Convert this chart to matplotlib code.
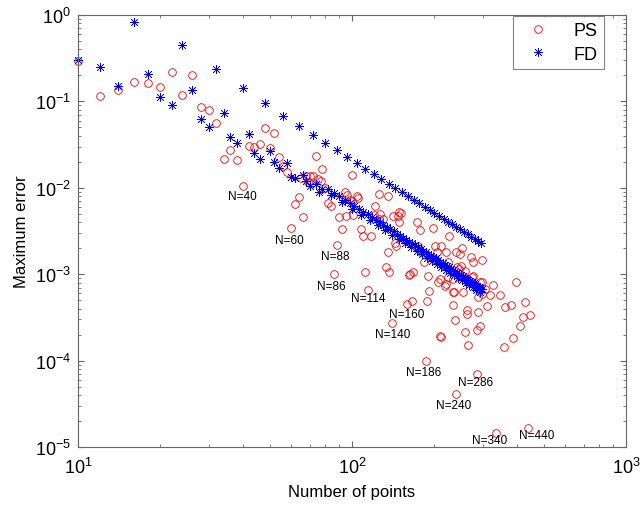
import matplotlib
matplotlib.use("Agg")
import matplotlib.pyplot as plt

plt.rcParams["font.family"] = ["Liberation Sans", "DejaVu Sans"]
plt.rcParams["mathtext.default"] = "regular"

# PS: maximum error vs number of points
ps_n = [10, 12, 14, 16, 18, 20, 22, 24, 26, 28, 30, 32, 34, 36, 38, 40, 42, 44,
        46, 48, 50, 52, 54, 56, 58, 60, 62, 64, 65, 66, 68, 69, 70, 72, 74, 75,
        77, 78, 80, 82, 84, 86, 88, 90, 92, 94, 95, 96, 98, 100, 100, 101, 104,
        105, 108, 110, 112, 114, 117, 120, 121, 125, 125, 126, 130, 133, 135,
        135, 137, 140, 141, 144, 145, 147, 149, 149, 151, 159, 161, 163, 165,
        167, 173, 174, 177, 178, 183, 186, 188, 190, 191, 198, 201, 204, 206,
        209, 210, 211, 212, 218, 221, 221, 224, 224, 226, 233, 233, 234, 236,
        238, 240, 240, 241, 246, 247, 250, 251, 254, 254, 258, 258, 262, 262,
        265, 272, 273, 276, 277, 285, 287, 289, 289, 293, 293, 298, 298, 298,
        306, 310, 318, 327, 336, 347, 358, 363, 380, 388, 398, 410, 420, 428,
        440, 448]
ps_err = [0.291, 0.116, 0.136, 0.166, 0.163, 0.148, 0.221, 0.119, 0.202, 0.087,
          0.080, 0.056, 0.0215, 0.0274, 0.0212, 0.0106, 0.0307, 0.0294, 0.0321,
          0.0492, 0.0286, 0.0431, 0.0229, 0.0180, 0.0151, 0.0034, 0.0065,
          0.0079, 0.0129, 0.00456, 0.0138, 0.0118, 0.0138, 0.0136, 0.0231,
          0.0126, 0.0121, 0.0166, 0.0099, 0.0066, 0.0062, 0.0010, 0.00218,
          0.00463, 0.00334, 0.0089, 0.00475, 0.0083, 0.0073, 0.0142, 0.0071,
          0.0048, 0.0080, 0.00755, 0.0033, 0.00275, 0.00105, 0.00066, 0.00277,
          0.00487, 0.0061, 0.0085, 0.0044, 0.0050, 0.0044, 0.0012, 0.0081,
          0.00179, 0.00107, 0.00027, 0.0047, 0.0023, 0.00214, 0.00475, 0.0052,
          0.0040, 0.0051, 0.000452, 0.00098, 0.0010, 0.000493, 0.00107,
          0.00405, 0.00214, 0.00327, 0.00182, 0.00137, 0.000098, 0.000493,
          0.00096, 0.000644, 0.0034, 0.00214, 0.00179, 0.00082, 0.00087,
          0.000194, 0.000190, 0.00214, 0.000736, 0.00179, 0.00077, 0.0014,
          0.00092, 0.00275, 0.00088, 0.000444, 0.000617, 0.000617, 0.000295,
          0.000041, 0.00179, 0.0012, 0.00114, 0.00173, 0.00124, 0.0020,
          0.00096, 0.000617, 0.0011, 0.000216, 0.000388, 0.000346, 0.000152,
          0.0016, 0.00092, 0.00096, 0.0014, 0.000070, 0.000228, 0.00054,
          0.000368, 0.00082, 0.000249, 0.00147, 0.00081, 0.000589, 0.000674,
          0.000432, 0.000574, 0.00075, 0.0000145, 0.00057, 0.000143, 0.000414,
          0.000444, 0.000183, 0.00081, 0.000249, 0.000317, 0.000473, 0.0000166,
          0.000337]

# FD, scattered part at small N
fd_n_low = [10, 12, 14, 18, 20, 22, 26, 28, 30, 34, 36, 38, 42, 44, 46, 50, 52,
            54, 58, 60, 62, 66, 68, 70, 74, 76]
fd_err_low = [0.304, 0.248, 0.152, 0.208, 0.111, 0.0908, 0.1355, 0.0626, 0.051,
              0.0728, 0.0384, 0.0327, 0.042, 0.0251, 0.0215, 0.0269, 0.020,
              0.017, 0.0192, 0.0132, 0.0129, 0.0141, 0.0121, 0.0104, 0.0111,
              0.0089]

# FD, upper branch (N multiple of 8)
fd_n_up = [16, 24, 32, 40, 48, 56, 64, 72, 80, 88, 96, 104, 112, 120, 128, 136,
           144, 152, 160, 168, 176, 184, 192, 200, 208, 216, 224, 232, 240, 248,
           256, 264, 272, 280, 288, 296]
fd_err_up = [0.837, 0.45, 0.237, 0.143, 0.095, 0.0684, 0.0515, 0.0409, 0.0330,
             0.0272, 0.0228, 0.0194, 0.0166, 0.0145, 0.0127, 0.0112, 0.00997,
             0.00893, 0.00805, 0.00728, 0.00663, 0.00606, 0.00555, 0.00511,
             0.00472, 0.00437, 0.00406, 0.00378, 0.00353, 0.0033, 0.00309,
             0.0029, 0.00273, 0.00257, 0.00243, 0.0023]

# FD, lower dense branch
fd_n_dense = [78, 82, 84, 86, 90, 92, 94, 98, 100, 102, 106, 108, 110, 114, 116,
              118, 122, 124, 126, 130, 132, 134, 138, 140, 142, 146, 148, 150,
              154, 156, 158, 162, 164, 166, 170, 172, 174, 178, 180, 182, 186,
              188, 190, 194, 196, 198, 202, 204, 206, 210, 212, 214, 218, 220,
              222, 226, 228, 230, 234, 236, 238, 242, 244, 246, 250, 252, 254,
              258, 260, 262, 266, 268, 270, 274, 276, 278, 282, 284, 286, 290,
              292, 294, 298]
fd_err_dense = [0.0098, 0.00969, 0.00817, 0.00878, 0.00799, 0.00678, 0.00731,
                0.00671, 0.00571, 0.00618, 0.0057, 0.00487, 0.00529, 0.00491,
                0.0042, 0.00458, 0.00427, 0.00367, 0.004, 0.00375, 0.00322,
                0.00352, 0.00332, 0.00286, 0.00313, 0.00295, 0.00255, 0.00279,
                0.00264, 0.00228, 0.00251, 0.00239, 0.00206, 0.00227, 0.00215,
                0.00187, 0.00206, 0.00196, 0.0017, 0.00188, 0.00179, 0.00155,
                0.00172, 0.00164, 0.00143, 0.00158, 0.00152, 0.00132, 0.00145,
                0.0014, 0.00121, 0.00135, 0.00129, 0.00113, 0.00124, 0.0012,
                0.00104, 0.00116, 0.00111, 0.000968, 0.00108, 0.00104, 0.000908,
                0.00101, 0.000974, 0.00085, 0.000943, 0.000913, 0.000797,
                0.000885, 0.000858, 0.000749, 0.000832, 0.000807, 0.000705,
                0.000783, 0.00076, 0.000665, 0.000739, 0.000718, 0.000628,
                0.000697, 0.000678]

fd_n = fd_n_low + fd_n_up + fd_n_dense
fd_err = fd_err_low + fd_err_up + fd_err_dense

# annotations
label_text = ["N=40", "N=60", "N=88", "N=86", "N=114", "N=160", "N=140",
              "N=186", "N=286", "N=240", "N=340", "N=440"]
label_x = [39.9, 59.0, 86.7, 84.3, 114.7, 159, 140.8, 182, 282.8, 234, 319, 473]
label_y = [0.00797, 0.00251, 0.00161, 0.000736, 0.000526, 0.000346, 0.000203,
           7.3e-5, 5.6e-5, 3.09e-5, 1.2e-5, 1.38e-5]

fig = plt.figure(figsize=(6.4, 5.06), dpi=100)
ax = fig.add_axes([78 / 640, 1 - 448 / 506, 548 / 640, 432 / 506])

ax.loglog(ps_n, ps_err, ls="none", marker="o", mfc="none", mec="red",
          ms=5.5, mew=0.6, label="PS", clip_on=False)
ax.loglog(fd_n, fd_err, ls="none", marker=(8, 2, 0), color="blue",
          ms=6.5, mew=0.45, label="FD", clip_on=False)

for s, x, y in zip(label_text, label_x, label_y):
    ax.text(x, y, s, ha="center", va="center", fontsize=8.5)

ax.set_xlim(10, 1000)
ax.set_ylim(1e-5, 1)

gray = "#666666"
for sp in ax.spines.values():
    sp.set_color(gray)
    sp.set_linewidth(0.8)
ax.tick_params(which="both", direction="in", top=True, right=True,
               color=gray, labelsize=13)
ax.tick_params(which="major", length=4.5)
ax.tick_params(axis="x", which="major", pad=7)
ax.tick_params(axis="y", which="major", pad=5)
ax.tick_params(which="minor", length=2.5)

ax.set_xlabel("Number of points", fontsize=12, labelpad=5)
ax.set_ylabel("Maximum error", fontsize=12, labelpad=4)

leg = ax.legend(loc="upper right", bbox_to_anchor=(0.96, 0.998),
                borderaxespad=0, fontsize=13, fancybox=False,
                handletextpad=1.0, handlelength=2.0, borderpad=0.35,
                labelspacing=0.35)
leg.get_frame().set_edgecolor(gray)
leg.get_frame().set_linewidth(0.8)

fig.savefig("out.png", dpi=100)
